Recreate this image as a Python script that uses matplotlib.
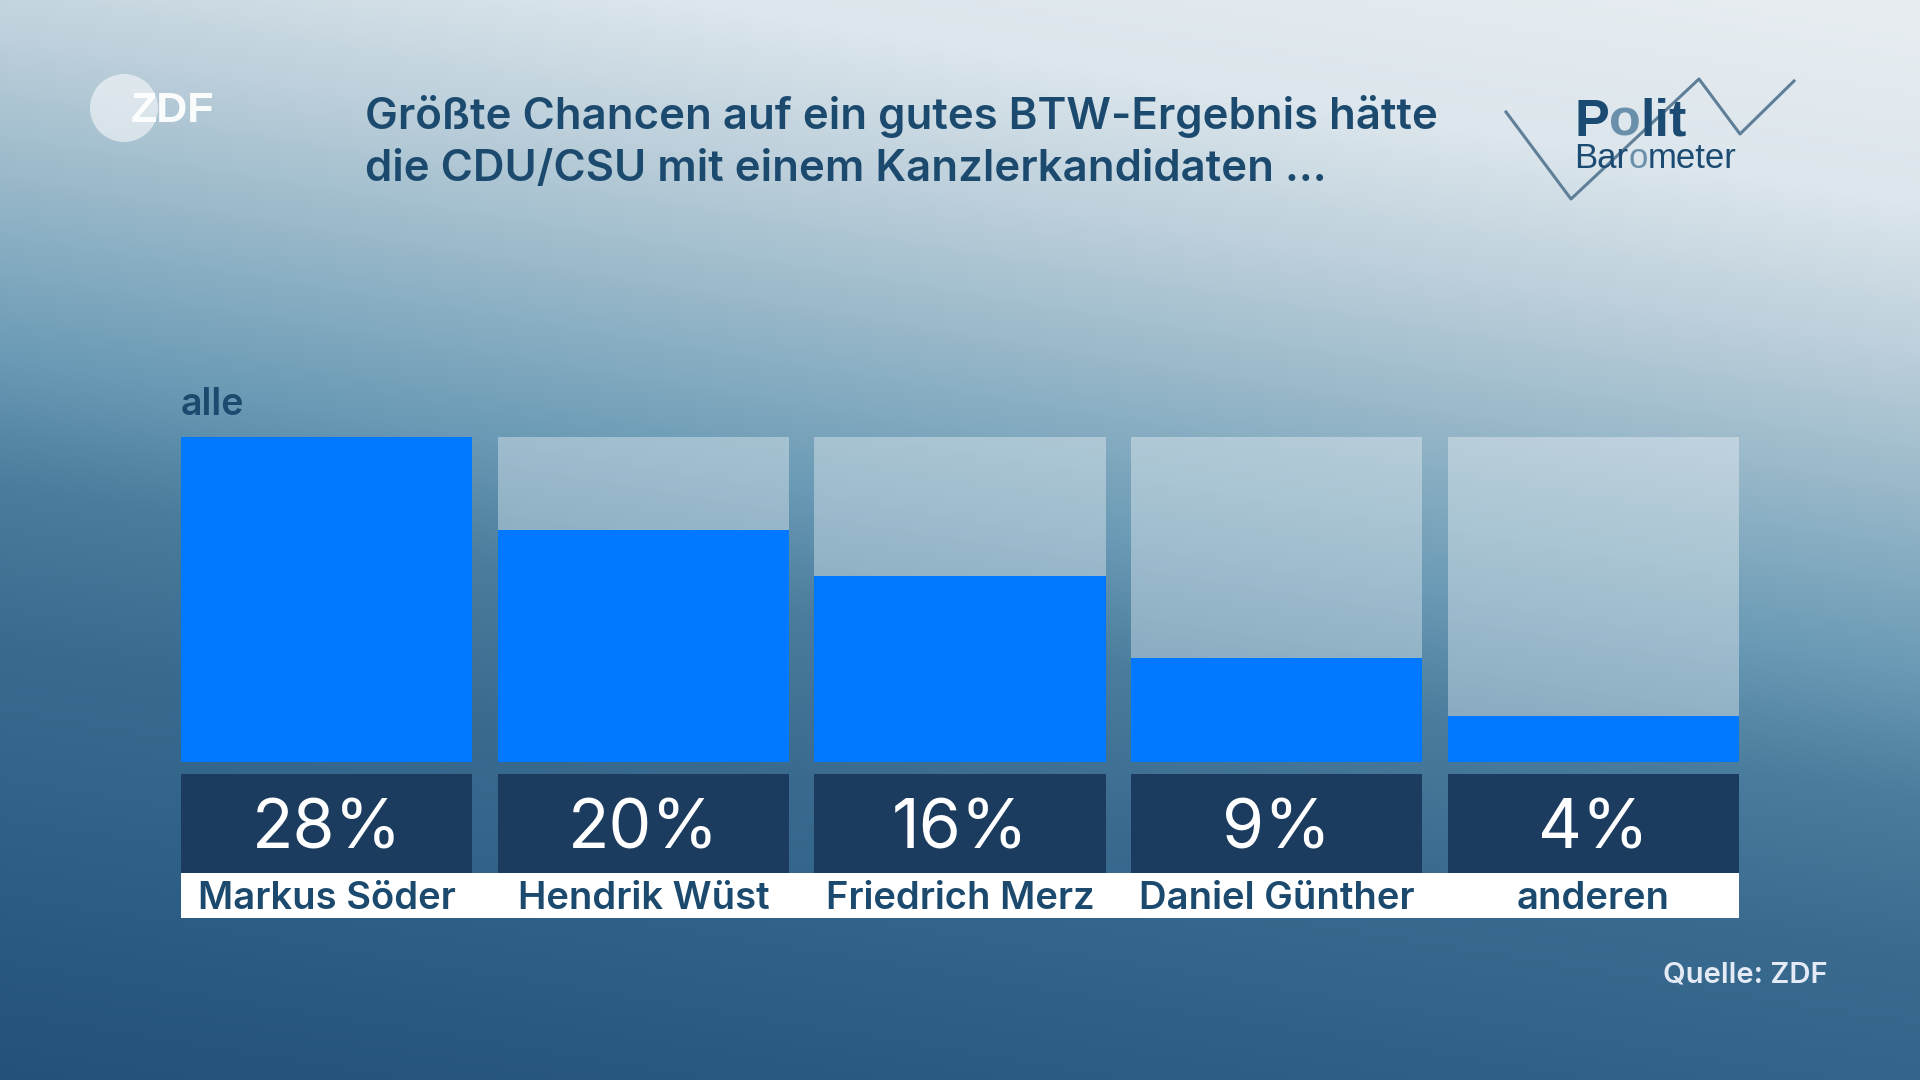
import numpy as np
import matplotlib.pyplot as plt
from matplotlib.patches import Circle

# Daten
kandidaten = ["Markus Söder", "Hendrik Wüst", "Friedrich Merz", "Daniel Günther", "anderen"]
werte = [28, 20, 16, 9, 4]
titel = ["Größte Chancen auf ein gutes BTW-Ergebnis hätte",
         "die CDU/CSU mit einem Kanzlerkandidaten ..."]
gruppe = "alle"
quelle = "Quelle: ZDF"

W, H = 1920, 1080
FONT = "Liberation Sans"
FONT2 = "Inter"
dunkel = "#1c4a6e"
blau = "#0078ff"

fig = plt.figure(figsize=(W / 100, H / 100), dpi=100)

# Hintergrund mit Verlauf
ax_bg = fig.add_axes([0, 0, 1, 1])
yy, xx = np.mgrid[0:H, 0:W]
u = yy / H - 0.29 * xx / W
stops = [-0.3, -0.1, 0.05, 0.2, 0.33, 0.45, 0.6, 0.8, 1.0]
farben = ["#e9eef2", "#dce6ec", "#b9cdd9", "#8fb2c5", "#6a9ab5",
          "#4a7c9d", "#3a6b8f", "#2d5e85", "#245178"]
rgb = np.array([[int(c[i:i + 2], 16) / 255 for i in (1, 3, 5)] for c in farben])
bild = np.dstack([np.interp(u, stops, rgb[:, k]) for k in range(3)])
ax_bg.imshow(bild, extent=[0, W, H, 0], aspect="auto")
ax_bg.set_xlim(0, W)
ax_bg.set_ylim(H, 0)
ax_bg.axis("off")

# ZDF-Logo
ax_bg.add_patch(Circle((124, 108), 34, color="white", alpha=0.55, lw=0))
ax_bg.text(131, 111, "ZDF", color="white", fontsize=31, fontweight="bold",
           family=FONT, va="center", ha="left", alpha=0.95)

# Titel
for zeile, yb in zip(titel, [129, 181]):
    ax_bg.text(365, yb, zeile, color=dunkel, fontsize=31.5, fontweight="semibold",
               family=FONT2, va="baseline", ha="left")

# Politbarometer-Logo
ax_bg.plot([1506, 1571, 1699, 1740, 1794], [112, 199, 79, 134, 81],
           color="#5f7f99", lw=2.2, zorder=1)
hell = "#6a8fab"
t = ax_bg.text(1574, 136, "P", color="#1b4a72", fontsize=37.5, fontweight="bold",
               family=FONT, va="baseline", ha="left", zorder=2)
for teil, farbe in [("o", hell), ("lit", "#1b4a72")]:
    t = ax_bg.annotate(teil, xycoords=t, xy=(1, 0), va="bottom", color=farbe,
                       fontsize=37.5, fontweight="bold", family=FONT, zorder=2)
t = ax_bg.text(1574, 168, "Bar", color="#1b4a72", fontsize=25,
               family=FONT, va="baseline", ha="left", zorder=2)
for teil, farbe in [("o", hell), ("meter", "#1b4a72")]:
    t = ax_bg.annotate(teil, xycoords=t, xy=(1, 0), va="bottom", color=farbe,
                       fontsize=25, family=FONT, zorder=2)

# Gruppe
ax_bg.text(181, 415, gruppe, color=dunkel, fontsize=27, fontweight="semibold",
           family=FONT2, va="baseline", ha="left")

# Quelle
ax_bg.text(1828, 982, quelle, color="#e4ebf6", fontsize=21, fontweight="semibold",
           family=FONT2, va="baseline", ha="right")


def rect(x0, y0, x1, y1):
    return [x0 / W, 1 - y1 / H, (x1 - x0) / W, (y1 - y0) / H]


x = np.arange(len(kandidaten))
breite = 0.92

# Balken
ax = fig.add_axes(rect(181, 437, 1739, 762))
ax.patch.set_alpha(0)
ax.bar(x, [max(werte)] * len(werte), width=breite, color="white", alpha=0.35, lw=0)
ax.bar(x, werte, width=breite, color=blau, lw=0)
ax.set_xlim(-0.46, len(x) - 0.54)
ax.set_ylim(0, max(werte))
ax.axis("off")

# Werte und Namen
ax2 = fig.add_axes(rect(181, 774, 1739, 918))
ax2.patch.set_alpha(0)
ax2.set_xlim(-0.46, len(x) - 0.54)
ax2.set_ylim(0, 1)
ax2.axhspan(0, 0.3125, color="white", lw=0)
ax2.bar(x, [1 - 0.3125] * len(x), bottom=0.3125, width=breite, color="#1b3b5f", lw=0)
for xi, w, name in zip(x, werte, kandidaten):
    ax2.text(xi, 0.486, f"{w}%", color="white", fontsize=49, family=FONT2,
             ha="center", va="baseline")
    ax2.text(xi, 0.0625, name, color=dunkel, fontsize=27.5, fontweight="semibold",
             family=FONT2, ha="center", va="baseline")
ax2.axis("off")

fig.savefig("out.png", dpi=100)
